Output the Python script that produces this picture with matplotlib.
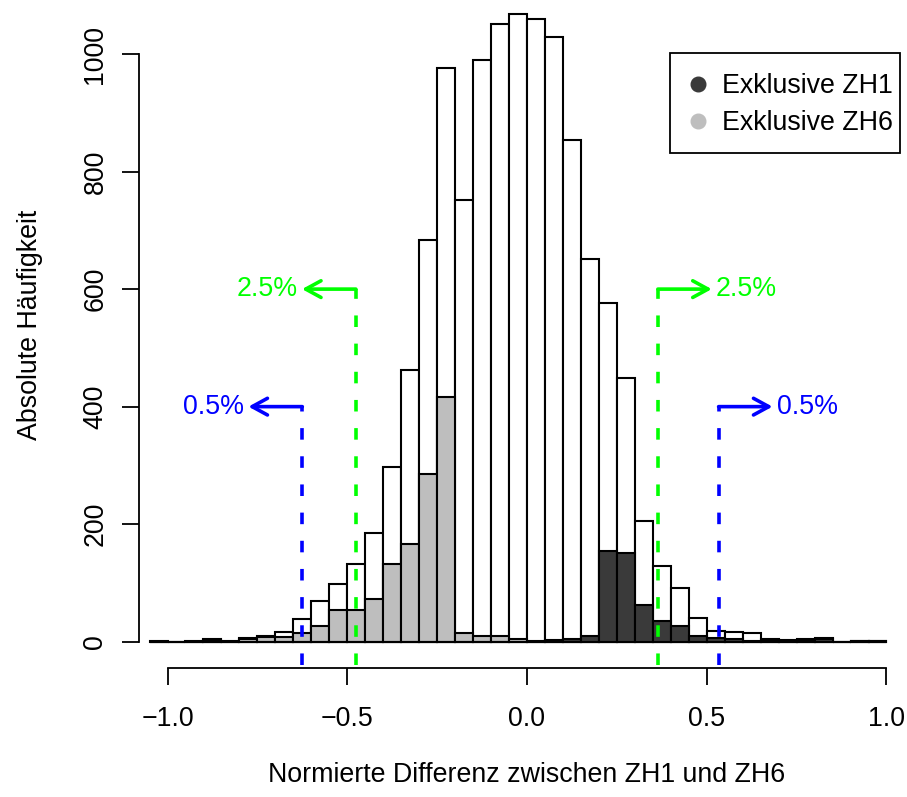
import matplotlib
matplotlib.use('Agg')
import matplotlib.pyplot as plt
from matplotlib.lines import Line2D
from matplotlib.patches import Rectangle

plt.rcParams['font.family'] = ['Liberation Sans', 'DejaVu Sans']

# histogram bins (left edges, width 0.05)
bin_edges = [round(-1.05 + 0.05 * i, 2) for i in range(41)]
bin_width = 0.05

# counts of all differences
counts_all = [2, 0, 2, 4, 1, 7, 10, 17, 38, 69,
              98, 132, 185, 298, 462, 683, 976, 752, 990, 1052,
              1069, 1059, 1029, 853, 651, 577, 449, 205, 129, 91,
              40, 18, 17, 14, 4, 3, 4, 6, 0, 2, 2]
# exclusive ZH6 (grey) and ZH1 (dark)
counts_zh6 = [0, 0, 0, 3, 0, 4, 8, 8, 15, 27,
              54, 54, 72, 132, 167, 285, 416, 14, 9, 9,
              4, 0, 0, 0, 0, 0, 0, 0, 0, 0,
              0, 0, 0, 0, 0, 0, 0, 0, 0, 0, 0]
counts_zh1 = [0, 0, 0, 0, 0, 0, 0, 0, 0, 0,
              0, 0, 0, 0, 0, 0, 0, 0, 0, 0,
              0, 2, 3, 4, 10, 155, 151, 63, 36, 27,
              10, 7, 4, 2, 2, 2, 3, 5, 0, 1, 1]

# quantile marks
q_left = [-0.625, -0.476]
q_right = [0.364, 0.533]
q_heights = [400, 600]
q_labels_left = ['0.5%', '2.5%']
q_labels_right = ['2.5%', '0.5%']
q_colors_left = ['#0000ff', '#00ff00']
q_colors_right = ['#00ff00', '#0000ff']
arrow_len = 0.15

xticks = [-1.0, -0.5, 0.0, 0.5, 1.0]
yticks = [0, 200, 400, 600, 800, 1000]

dark = '#3a3a3a'
grey = '#bebebe'
fs = 19.3

W, H = 907, 797
fig = plt.figure(figsize=(W / 100, H / 100), dpi=100)
ax = fig.add_axes([139 / W, (H - 668.3) / H, (905 - 139) / W, 668.3 / H])
ax.set_xlim(-1.0793, 1.0515)
ax.set_ylim(-45.3, 1092)

lw = 1.5
ax.bar(bin_edges, counts_all, width=bin_width, align='edge', color='white',
       edgecolor='black', linewidth=lw, zorder=2)
ax.bar(bin_edges, counts_zh6, width=bin_width, align='edge', color=grey,
       edgecolor='black', linewidth=lw, zorder=3)
ax.bar(bin_edges, counts_zh1, width=bin_width, align='edge', color=dark,
       edgecolor='black', linewidth=lw, zorder=4)

# quantile lines with arrows
def mark(x, h, direction, label, color):
    ax.plot([x, x], [-40, h], color=color, lw=2.6, linestyle=(0, (3.2, 4.6)),
            clip_on=False, zorder=5)
    tip = x + direction * arrow_len
    ax.annotate('', xy=(tip, h), xytext=(x, h),
                arrowprops=dict(arrowstyle='->,head_length=0.55,head_width=0.3',
                                color=color, lw=2.6, mutation_scale=20,
                                shrinkA=0, shrinkB=0), zorder=5)
    ax.annotate(label, xy=(tip, h), xytext=(direction * 3, 0),
                textcoords='offset points', ha='right' if direction < 0 else 'left',
                va='center', color=color, fontsize=fs, zorder=6)

for x, h, lab, c in zip(q_left, q_heights, q_labels_left, q_colors_left):
    mark(x, h, -1, lab, c)
for x, h, lab, c in zip(q_right, q_heights[::-1], q_labels_right, q_colors_right):
    mark(x, h, 1, lab, c)

# axes in R style
for s in ['top', 'right']:
    ax.spines[s].set_visible(False)
ax.spines['left'].set_bounds(0, 1000)
ax.spines['bottom'].set_bounds(-1, 1)
ax.spines['left'].set_linewidth(1.3)
ax.spines['bottom'].set_linewidth(1.3)
ax.set_xticks(xticks)
ax.set_xticklabels(['−1.0', '−0.5', '0.0', '0.5', '1.0'], fontsize=fs)
ax.set_yticks(yticks)
ax.set_yticklabels([str(v) for v in yticks], fontsize=fs, rotation=90, va='center')
ax.tick_params(axis='both', direction='out', length=12, width=1.3)
ax.tick_params(axis='x', pad=15.5)
ax.tick_params(axis='y', pad=10)

ax.set_xlabel('Normierte Differenz zwischen ZH1 und ZH6', fontsize=fs)
ax.xaxis.set_label_coords((526.5 - 139) / (905 - 139), (668.3 - 775) / 668.3)
ax.xaxis.label.set_va('center')
ax.set_ylabel('Absolute Häufigkeit', fontsize=fs)
ax.yaxis.set_label_coords((30 - 139) / (905 - 139), (668.3 - 325) / 668.3)
ax.yaxis.label.set_va('center')

# legend: box drawn separately (R style padding)
fig.patches.append(Rectangle((670 / W, 1 - 153 / H), 230 / W, 100 / H,
                             transform=fig.transFigure, fill=False,
                             edgecolor='black', linewidth=1.3))
handles = [Line2D([], [], marker='o', linestyle='none', markersize=10.5,
                  color=dark),
           Line2D([], [], marker='o', linestyle='none', markersize=10.5,
                  color=grey)]
leg = fig.legend(handles, ['Exklusive ZH1', 'Exklusive ZH6'], loc='upper left',
                 bbox_to_anchor=(684.6 / W, 1 - 73 / H), fontsize=fs,
                 frameon=False, borderpad=0, handlelength=1.0,
                 handletextpad=0.4, labelspacing=0.41, borderaxespad=0)

fig.savefig('out.png', dpi=100)
